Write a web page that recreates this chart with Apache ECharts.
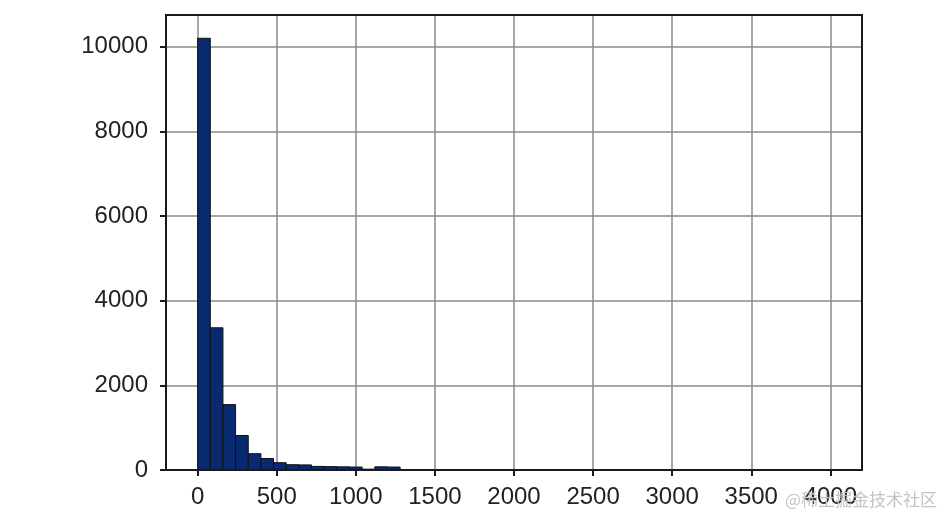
<!DOCTYPE html>
<html>
<head>
<meta charset="utf-8">
<script src="https://cdn.jsdelivr.net/npm/echarts@6/dist/echarts.min.js"></script>
<style>
html,body{margin:0;padding:0;background:#fff;}
#chart{width:951px;height:519px;}
</style>
</head>
<body>
<div id="chart"></div>
<script>
// Histogram bins: start of each bin (width 80)
var binStarts = [0,80,160,240,320,400,480,560,640,720,800,880,960,1040,1120,1200,1280,1360,1440,1520,1600,1680,1760,1840,1920,2000,2080,2160,2240,2320,2400,2480,2560,2640,2720,2800,2880,2960,3040,3120,3200,3280,3360,3440,3520,3600,3680,3760,3840,3920];
var binWidth = 80;
var counts = [10200,3360,1545,815,385,272,172,125,120,85,80,75,70,20,75,70,8,5,3,2,2,1,1,1,0,1,0,0,1,0,0,0,0,0,0,1,0,0,0,0,0,0,0,0,0,0,0,0,0,1];
var xTicks = [0,500,1000,1500,2000,2500,3000,3500,4000];
var yTicks = [0,2000,4000,6000,8000,10000];

var data = binStarts.map(function(s,i){ return [s, s + binWidth, counts[i]]; });

var chart = echarts.init(document.getElementById('chart'));
var labelFont = {fontFamily:'Liberation Sans, Arial, sans-serif', fontSize:24, color:'#222', formatter:function(v){ return String(v); }};
chart.setOption({
  animation:false,
  backgroundColor:'#fff',
  grid:{left:166,right:89,top:15,bottom:49,show:true,borderColor:'#1a1a1a',borderWidth:2,backgroundColor:'transparent',z:3},
  xAxis:{
    type:'value', min:-200, max:4200,
    axisLine:{show:true,onZero:false,lineStyle:{color:'#1a1a1a',width:2}},
    axisTick:{show:true,inside:false,length:6,customValues:xTicks,lineStyle:{color:'#1a1a1a',width:2}},
    axisLabel:Object.assign({margin:15,customValues:xTicks},labelFont),
    splitLine:{show:true,lineStyle:{color:'#8a8a8a',width:1.5}}
  },
  yAxis:{
    type:'value', min:0, max:10750,
    axisLine:{show:true,onZero:false,lineStyle:{color:'#1a1a1a',width:2}},
    axisTick:{show:true,inside:false,length:6,customValues:yTicks,lineStyle:{color:'#1a1a1a',width:2}},
    axisLabel:Object.assign({margin:18,customValues:yTicks},labelFont),
    splitLine:{show:true,lineStyle:{color:'#8a8a8a',width:1.5}}
  },
  series:[{
    type:'custom',
    data:data,
    clip:true,
    renderItem:function(params, api){
      var p0 = api.coord([api.value(0), 0]);
      var p1 = api.coord([api.value(1), api.value(2)]);
      return {
        type:'rect',
        shape:{x:p0[0], y:p1[1], width:p1[0]-p0[0], height:p0[1]-p1[1]},
        style:{fill:'#0a2a70', stroke:'#111', lineWidth:1}
      };
    },
    encode:{x:[0,1], y:2},
    z:2
  }],
  graphic:[{
    type:'text', left:785, top:491, z:10,
    style:{text:'@稀土掘金技术社区', fill:'#c4c4c4', font:'17px "Noto Sans CJK SC", sans-serif'}
  }]
});
</script>
</body>
</html>
